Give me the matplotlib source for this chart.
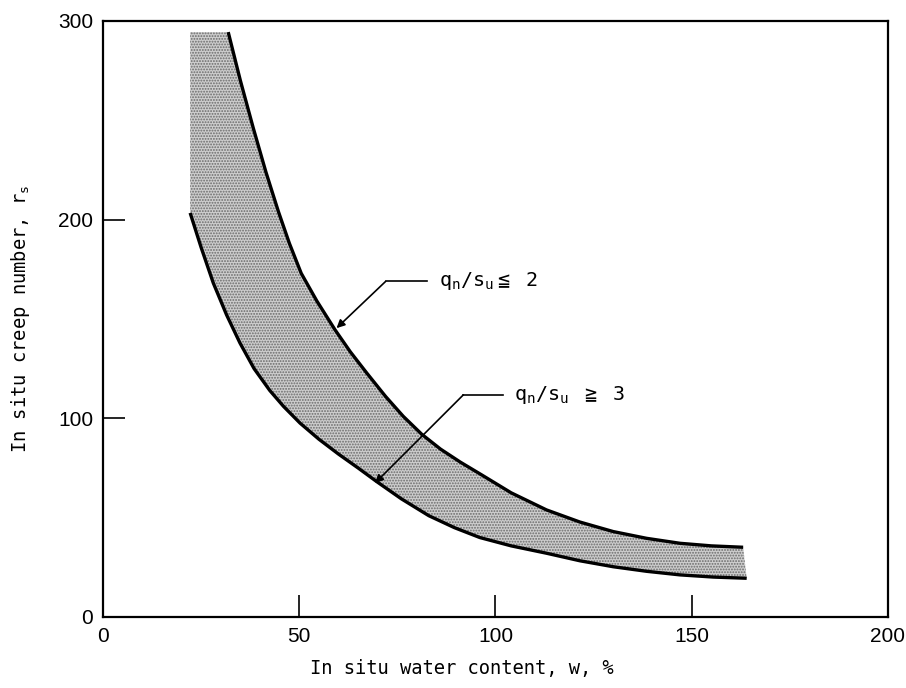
import numpy as np
import matplotlib
matplotlib.use('Agg')
import matplotlib.pyplot as plt

# curves (water content %, creep number)
w_upper = [31.9, 35.0, 38.3, 41.5, 44.7, 47.5, 50.5, 54.5, 59.1, 63.0, 67.2, 72.0,
           76.5, 81.2, 86.0, 91.0, 96.5, 104.0, 113.0, 121.5, 130.0, 138.5, 147.0, 155.0, 163.1]
r_upper = [294.4, 270.0, 246.0, 224.0, 204.0, 188.0, 173.0, 159.0, 144.6, 133.5, 122.8, 111.0,
           101.0, 92.0, 84.5, 78.0, 71.5, 62.5, 53.9, 47.8, 43.0, 39.6, 37.1, 35.8, 35.1]
w_lower = [22.2, 25.0, 28.1, 31.5, 34.9, 38.5, 42.5, 46.0, 50.2, 55.0, 60.0, 65.0,
           69.7, 76.0, 83.0, 89.5, 96.0, 104.0, 113.0, 121.5, 130.0, 138.5, 147.0, 155.5, 164.0]
r_lower = [203.4, 186.0, 168.1, 152.0, 137.9, 125.0, 114.0, 106.0, 97.6, 89.5, 82.0, 75.0,
           68.2, 59.5, 51.0, 45.0, 40.0, 35.8, 32.1, 28.3, 25.3, 23.0, 21.2, 20.1, 19.5]
band_top = 294.4

x_ticks = [0, 50, 100, 150, 200]
y_ticks = [0, 100, 200, 300]

plt.rcParams['mathtext.fontset'] = 'custom'
plt.rcParams['mathtext.rm'] = 'DejaVu Sans Mono'
plt.rcParams['hatch.linewidth'] = 0.9

fig = plt.figure(figsize=(9.06, 6.88), dpi=100)
ax = fig.add_axes([0.1137, 0.1032, 0.8664, 0.8663])

# shaded band
px = [w_lower[0]] + w_upper + w_lower[::-1]
py = [band_top] + r_upper + r_lower[::-1]
ax.fill(px, py, facecolor='#cdcdcd', edgecolor='#6a6a6a', hatch='......', lw=0)

ax.plot(w_upper, r_upper, color='black', lw=2.4, solid_capstyle='butt', solid_joinstyle='round')
ax.plot(w_lower, r_lower, color='black', lw=2.4, solid_capstyle='butt', solid_joinstyle='round')

# labels with leader lines
ax.plot([82.5, 72.0], [168.9, 168.9], color='black', lw=1.2)
ax.annotate('', xy=(59.5, 145.4), xytext=(72.0, 168.9),
            arrowprops=dict(arrowstyle='-|>', color='black', lw=1.2,
                            mutation_scale=12, shrinkA=0, shrinkB=0))
ax.text(85.5, 168.9, r'$\mathrm{q_n/s_u}$$\leqq$ 2', fontsize=14.5,
        family='DejaVu Sans Mono', va='center', ha='left')

ax.plot([102.0, 91.8], [111.8, 111.8], color='black', lw=1.2)
ax.annotate('', xy=(69.3, 67.4), xytext=(91.8, 111.8),
            arrowprops=dict(arrowstyle='-|>', color='black', lw=1.2,
                            mutation_scale=12, shrinkA=0, shrinkB=0))
ax.text(104.8, 111.8, r'$\mathrm{q_n/s_u}$ $\geqq$ 3', fontsize=14.5,
        family='DejaVu Sans Mono', va='center', ha='left')

ax.set_xlim(0, 200)
ax.set_ylim(0, 300)
ax.set_xticks(x_ticks)
ax.set_yticks(y_ticks)
ax.tick_params(direction='in', length=16, width=1.2, labelsize=15, pad=7)
for lab in ax.get_xticklabels() + ax.get_yticklabels():
    lab.set_family(['Liberation Sans', 'DejaVu Sans'])
for s in ax.spines.values():
    s.set_linewidth(1.6)

ax.set_xlabel('In situ water content, w, %', family='DejaVu Sans Mono', fontsize=13.5)
ax.xaxis.set_label_coords(0.457, -0.071)
ax.set_ylabel(r'In situ creep number, $\mathrm{r_s}$', family='DejaVu Sans Mono', fontsize=13.5)
ax.yaxis.set_label_coords(-0.09, 0.5)

fig.savefig('out.png', dpi=100)
